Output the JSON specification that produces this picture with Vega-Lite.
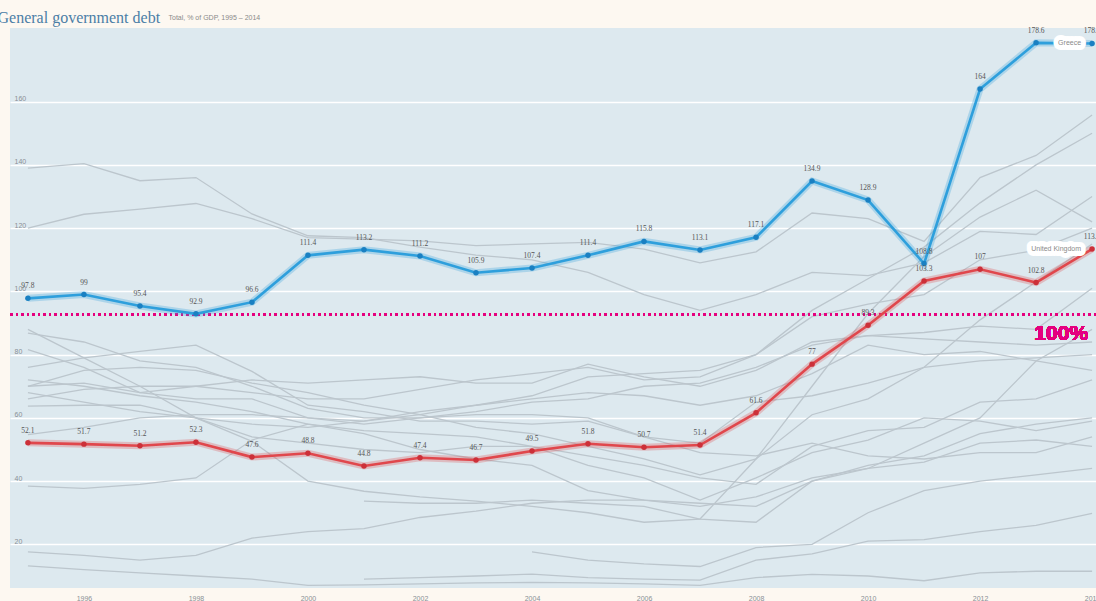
{
"$schema":"https://vega.github.io/schema/vega-lite/v6.json",
"autosize":{"type":"none"},
"width":1086,"height":560,
"padding":{"left":10,"top":28,"right":0,"bottom":13},
"background":"#fdf8f1",
"config":{"view":{"fill":"#dde9ef","stroke":null},"font":"Liberation Sans"},
"datasets":{"debt":[
{"country":"Greece","year":1995,"value":97.8},{"country":"Greece","year":1996,"value":99},{"country":"Greece","year":1997,"value":95.4},{"country":"Greece","year":1998,"value":92.9},{"country":"Greece","year":1999,"value":96.6},{"country":"Greece","year":2000,"value":111.4},{"country":"Greece","year":2001,"value":113.2},{"country":"Greece","year":2002,"value":111.2},{"country":"Greece","year":2003,"value":105.9},{"country":"Greece","year":2004,"value":107.4},{"country":"Greece","year":2005,"value":111.4},{"country":"Greece","year":2006,"value":115.8},{"country":"Greece","year":2007,"value":113.1},{"country":"Greece","year":2008,"value":117.1},{"country":"Greece","year":2009,"value":134.9},{"country":"Greece","year":2010,"value":128.9},{"country":"Greece","year":2011,"value":108.8},{"country":"Greece","year":2012,"value":164},{"country":"Greece","year":2013,"value":178.6},{"country":"Greece","year":2014,"value":178.4},
{"country":"United Kingdom","year":1995,"value":52.1},{"country":"United Kingdom","year":1996,"value":51.7},{"country":"United Kingdom","year":1997,"value":51.2},{"country":"United Kingdom","year":1998,"value":52.3},{"country":"United Kingdom","year":1999,"value":47.6},{"country":"United Kingdom","year":2000,"value":48.8},{"country":"United Kingdom","year":2001,"value":44.8},{"country":"United Kingdom","year":2002,"value":47.4},{"country":"United Kingdom","year":2003,"value":46.7},{"country":"United Kingdom","year":2004,"value":49.5},{"country":"United Kingdom","year":2005,"value":51.8},{"country":"United Kingdom","year":2006,"value":50.7},{"country":"United Kingdom","year":2007,"value":51.4},{"country":"United Kingdom","year":2008,"value":61.6},{"country":"United Kingdom","year":2009,"value":77},{"country":"United Kingdom","year":2010,"value":89.3},{"country":"United Kingdom","year":2011,"value":103.3},{"country":"United Kingdom","year":2012,"value":107},{"country":"United Kingdom","year":2013,"value":102.8},{"country":"United Kingdom","year":2014,"value":113.4},
{"country":"Belgium","year":1995,"value":139},{"country":"Belgium","year":1996,"value":140.4},{"country":"Belgium","year":1997,"value":135},{"country":"Belgium","year":1998,"value":136},{"country":"Belgium","year":1999,"value":124.5},{"country":"Belgium","year":2000,"value":117.6},{"country":"Belgium","year":2001,"value":117},{"country":"Belgium","year":2002,"value":114},{"country":"Belgium","year":2003,"value":111.5},{"country":"Belgium","year":2004,"value":110},{"country":"Belgium","year":2005,"value":106},{"country":"Belgium","year":2006,"value":99},{"country":"Belgium","year":2007,"value":94},{"country":"Belgium","year":2008,"value":99},{"country":"Belgium","year":2009,"value":106},{"country":"Belgium","year":2010,"value":105},{"country":"Belgium","year":2011,"value":109},{"country":"Belgium","year":2012,"value":119},{"country":"Belgium","year":2013,"value":118},{"country":"Belgium","year":2014,"value":130},
{"country":"Italy","year":1995,"value":120},{"country":"Italy","year":1996,"value":124.4},{"country":"Italy","year":1997,"value":126},{"country":"Italy","year":1998,"value":127.8},{"country":"Italy","year":1999,"value":123},{"country":"Italy","year":2000,"value":117},{"country":"Italy","year":2001,"value":116.5},{"country":"Italy","year":2002,"value":116},{"country":"Italy","year":2003,"value":114.5},{"country":"Italy","year":2004,"value":115},{"country":"Italy","year":2005,"value":115.5},{"country":"Italy","year":2006,"value":113.4},{"country":"Italy","year":2007,"value":109},{"country":"Italy","year":2008,"value":112.5},{"country":"Italy","year":2009,"value":124.8},{"country":"Italy","year":2010,"value":123},{"country":"Italy","year":2011,"value":115.8},{"country":"Italy","year":2012,"value":136},{"country":"Italy","year":2013,"value":143},{"country":"Italy","year":2014,"value":155.8},
{"country":"Portugal","year":1995,"value":68},{"country":"Portugal","year":1996,"value":65},{"country":"Portugal","year":1997,"value":62},{"country":"Portugal","year":1998,"value":60},{"country":"Portugal","year":1999,"value":58},{"country":"Portugal","year":2000,"value":57},{"country":"Portugal","year":2001,"value":59},{"country":"Portugal","year":2002,"value":62},{"country":"Portugal","year":2003,"value":64},{"country":"Portugal","year":2004,"value":67},{"country":"Portugal","year":2005,"value":73},{"country":"Portugal","year":2006,"value":74},{"country":"Portugal","year":2007,"value":75},{"country":"Portugal","year":2008,"value":80},{"country":"Portugal","year":2009,"value":94},{"country":"Portugal","year":2010,"value":104},{"country":"Portugal","year":2011,"value":114},{"country":"Portugal","year":2012,"value":128},{"country":"Portugal","year":2013,"value":140},{"country":"Portugal","year":2014,"value":150},
{"country":"Ireland","year":1995,"value":88},{"country":"Ireland","year":1996,"value":79},{"country":"Ireland","year":1997,"value":70},{"country":"Ireland","year":1998,"value":60},{"country":"Ireland","year":1999,"value":52.6},{"country":"Ireland","year":2000,"value":40},{"country":"Ireland","year":2001,"value":36.8},{"country":"Ireland","year":2002,"value":35},{"country":"Ireland","year":2003,"value":33.7},{"country":"Ireland","year":2004,"value":32},{"country":"Ireland","year":2005,"value":30},{"country":"Ireland","year":2006,"value":27},{"country":"Ireland","year":2007,"value":28},{"country":"Ireland","year":2008,"value":47},{"country":"Ireland","year":2009,"value":70},{"country":"Ireland","year":2010,"value":93},{"country":"Ireland","year":2011,"value":111},{"country":"Ireland","year":2012,"value":123.5},{"country":"Ireland","year":2013,"value":132},{"country":"Ireland","year":2014,"value":122},
{"country":"France","year":1995,"value":66},{"country":"France","year":1996,"value":69},{"country":"France","year":1997,"value":70},{"country":"France","year":1998,"value":70},{"country":"France","year":1999,"value":68},{"country":"France","year":2000,"value":66},{"country":"France","year":2001,"value":66},{"country":"France","year":2002,"value":69},{"country":"France","year":2003,"value":72},{"country":"France","year":2004,"value":74},{"country":"France","year":2005,"value":76},{"country":"France","year":2006,"value":72},{"country":"France","year":2007,"value":73},{"country":"France","year":2008,"value":80},{"country":"France","year":2009,"value":92},{"country":"France","year":2010,"value":96},{"country":"France","year":2011,"value":99},{"country":"France","year":2012,"value":110},{"country":"France","year":2013,"value":113},{"country":"France","year":2014,"value":120},
{"country":"Spain","year":1995,"value":70},{"country":"Spain","year":1996,"value":75},{"country":"Spain","year":1997,"value":76},{"country":"Spain","year":1998,"value":75},{"country":"Spain","year":1999,"value":71},{"country":"Spain","year":2000,"value":68},{"country":"Spain","year":2001,"value":64},{"country":"Spain","year":2002,"value":61},{"country":"Spain","year":2003,"value":57},{"country":"Spain","year":2004,"value":55},{"country":"Spain","year":2005,"value":51},{"country":"Spain","year":2006,"value":47},{"country":"Spain","year":2007,"value":42},{"country":"Spain","year":2008,"value":47},{"country":"Spain","year":2009,"value":61},{"country":"Spain","year":2010,"value":66},{"country":"Spain","year":2011,"value":76},{"country":"Spain","year":2012,"value":91},{"country":"Spain","year":2013,"value":103},{"country":"Spain","year":2014,"value":115},
{"country":"Austria","year":1995,"value":70},{"country":"Austria","year":1996,"value":71},{"country":"Austria","year":1997,"value":68},{"country":"Austria","year":1998,"value":70},{"country":"Austria","year":1999,"value":72},{"country":"Austria","year":2000,"value":71},{"country":"Austria","year":2001,"value":72},{"country":"Austria","year":2002,"value":73},{"country":"Austria","year":2003,"value":71},{"country":"Austria","year":2004,"value":71},{"country":"Austria","year":2005,"value":77},{"country":"Austria","year":2006,"value":73},{"country":"Austria","year":2007,"value":70},{"country":"Austria","year":2008,"value":75},{"country":"Austria","year":2009,"value":84},{"country":"Austria","year":2010,"value":86},{"country":"Austria","year":2011,"value":87},{"country":"Austria","year":2012,"value":89},{"country":"Austria","year":2013,"value":88},{"country":"Austria","year":2014,"value":101},
{"country":"Netherlands","year":1995,"value":86.8},{"country":"Netherlands","year":1996,"value":84},{"country":"Netherlands","year":1997,"value":78},{"country":"Netherlands","year":1998,"value":76},{"country":"Netherlands","year":1999,"value":70},{"country":"Netherlands","year":2000,"value":63},{"country":"Netherlands","year":2001,"value":60},{"country":"Netherlands","year":2002,"value":60},{"country":"Netherlands","year":2003,"value":61},{"country":"Netherlands","year":2004,"value":61},{"country":"Netherlands","year":2005,"value":60},{"country":"Netherlands","year":2006,"value":54},{"country":"Netherlands","year":2007,"value":52},{"country":"Netherlands","year":2008,"value":65},{"country":"Netherlands","year":2009,"value":67},{"country":"Netherlands","year":2010,"value":71},{"country":"Netherlands","year":2011,"value":76},{"country":"Netherlands","year":2012,"value":78},{"country":"Netherlands","year":2013,"value":79},{"country":"Netherlands","year":2014,"value":80},
{"country":"Hungary","year":1995,"value":81.6},{"country":"Hungary","year":1996,"value":76},{"country":"Hungary","year":1997,"value":68},{"country":"Hungary","year":1998,"value":66},{"country":"Hungary","year":1999,"value":66},{"country":"Hungary","year":2000,"value":60},{"country":"Hungary","year":2001,"value":58},{"country":"Hungary","year":2002,"value":60},{"country":"Hungary","year":2003,"value":62},{"country":"Hungary","year":2004,"value":65},{"country":"Hungary","year":2005,"value":66},{"country":"Hungary","year":2006,"value":70},{"country":"Hungary","year":2007,"value":71},{"country":"Hungary","year":2008,"value":76},{"country":"Hungary","year":2009,"value":83},{"country":"Hungary","year":2010,"value":86},{"country":"Hungary","year":2011,"value":85},{"country":"Hungary","year":2012,"value":84},{"country":"Hungary","year":2013,"value":83},{"country":"Hungary","year":2014,"value":84},
{"country":"Sweden","year":1995,"value":76},{"country":"Sweden","year":1996,"value":79},{"country":"Sweden","year":1997,"value":81},{"country":"Sweden","year":1998,"value":83},{"country":"Sweden","year":1999,"value":74.7},{"country":"Sweden","year":2000,"value":64},{"country":"Sweden","year":2001,"value":62},{"country":"Sweden","year":2002,"value":59},{"country":"Sweden","year":2003,"value":59},{"country":"Sweden","year":2004,"value":58},{"country":"Sweden","year":2005,"value":59},{"country":"Sweden","year":2006,"value":54},{"country":"Sweden","year":2007,"value":49},{"country":"Sweden","year":2008,"value":48},{"country":"Sweden","year":2009,"value":52},{"country":"Sweden","year":2010,"value":48},{"country":"Sweden","year":2011,"value":47},{"country":"Sweden","year":2012,"value":49},{"country":"Sweden","year":2013,"value":49},{"country":"Sweden","year":2014,"value":54},
{"country":"Denmark","year":1995,"value":72},{"country":"Denmark","year":1996,"value":70},{"country":"Denmark","year":1997,"value":67},{"country":"Denmark","year":1998,"value":65},{"country":"Denmark","year":1999,"value":62},{"country":"Denmark","year":2000,"value":58},{"country":"Denmark","year":2001,"value":56},{"country":"Denmark","year":2002,"value":55},{"country":"Denmark","year":2003,"value":54},{"country":"Denmark","year":2004,"value":51},{"country":"Denmark","year":2005,"value":45},{"country":"Denmark","year":2006,"value":41},{"country":"Denmark","year":2007,"value":34},{"country":"Denmark","year":2008,"value":41},{"country":"Denmark","year":2009,"value":49},{"country":"Denmark","year":2010,"value":53},{"country":"Denmark","year":2011,"value":60},{"country":"Denmark","year":2012,"value":59},{"country":"Denmark","year":2013,"value":56},{"country":"Denmark","year":2014,"value":59},
{"country":"Finland","year":1995,"value":63.7},{"country":"Finland","year":1996,"value":64},{"country":"Finland","year":1997,"value":64},{"country":"Finland","year":1998,"value":60},{"country":"Finland","year":1999,"value":54},{"country":"Finland","year":2000,"value":52},{"country":"Finland","year":2001,"value":50},{"country":"Finland","year":2002,"value":49},{"country":"Finland","year":2003,"value":51},{"country":"Finland","year":2004,"value":51},{"country":"Finland","year":2005,"value":48},{"country":"Finland","year":2006,"value":45},{"country":"Finland","year":2007,"value":41},{"country":"Finland","year":2008,"value":39},{"country":"Finland","year":2009,"value":51},{"country":"Finland","year":2010,"value":56},{"country":"Finland","year":2011,"value":57},{"country":"Finland","year":2012,"value":65},{"country":"Finland","year":2013,"value":66},{"country":"Finland","year":2014,"value":72},
{"country":"Germany","year":1995,"value":54.7},{"country":"Germany","year":1996,"value":57},{"country":"Germany","year":1997,"value":60},{"country":"Germany","year":1998,"value":61},{"country":"Germany","year":1999,"value":61},{"country":"Germany","year":2000,"value":60},{"country":"Germany","year":2001,"value":59},{"country":"Germany","year":2002,"value":61},{"country":"Germany","year":2003,"value":64},{"country":"Germany","year":2004,"value":66},{"country":"Germany","year":2005,"value":68},{"country":"Germany","year":2006,"value":67},{"country":"Germany","year":2007,"value":64},{"country":"Germany","year":2008,"value":67},{"country":"Germany","year":2009,"value":74},{"country":"Germany","year":2010,"value":83},{"country":"Germany","year":2011,"value":80},{"country":"Germany","year":2012,"value":81},{"country":"Germany","year":2013,"value":78},{"country":"Germany","year":2014,"value":75},
{"country":"Slovakia","year":1995,"value":38.4},{"country":"Slovakia","year":1996,"value":37.7},{"country":"Slovakia","year":1997,"value":39},{"country":"Slovakia","year":1998,"value":41},{"country":"Slovakia","year":1999,"value":53},{"country":"Slovakia","year":2000,"value":58},{"country":"Slovakia","year":2001,"value":55},{"country":"Slovakia","year":2002,"value":50},{"country":"Slovakia","year":2003,"value":47},{"country":"Slovakia","year":2004,"value":45},{"country":"Slovakia","year":2005,"value":37},{"country":"Slovakia","year":2006,"value":34},{"country":"Slovakia","year":2007,"value":33},{"country":"Slovakia","year":2008,"value":32},{"country":"Slovakia","year":2009,"value":40},{"country":"Slovakia","year":2010,"value":45},{"country":"Slovakia","year":2011,"value":48},{"country":"Slovakia","year":2012,"value":55},{"country":"Slovakia","year":2013,"value":58},{"country":"Slovakia","year":2014,"value":60},
{"country":"Czech Republic","year":1995,"value":17.6},{"country":"Czech Republic","year":1996,"value":16.5},{"country":"Czech Republic","year":1997,"value":15},{"country":"Czech Republic","year":1998,"value":16.5},{"country":"Czech Republic","year":1999,"value":22},{"country":"Czech Republic","year":2000,"value":24},{"country":"Czech Republic","year":2001,"value":25},{"country":"Czech Republic","year":2002,"value":28.5},{"country":"Czech Republic","year":2003,"value":30.5},{"country":"Czech Republic","year":2004,"value":33},{"country":"Czech Republic","year":2005,"value":34},{"country":"Czech Republic","year":2006,"value":34},{"country":"Czech Republic","year":2007,"value":32},{"country":"Czech Republic","year":2008,"value":35},{"country":"Czech Republic","year":2009,"value":41},{"country":"Czech Republic","year":2010,"value":44},{"country":"Czech Republic","year":2011,"value":46},{"country":"Czech Republic","year":2012,"value":52},{"country":"Czech Republic","year":2013,"value":53},{"country":"Czech Republic","year":2014,"value":51},
{"country":"Estonia","year":1995,"value":13.2},{"country":"Estonia","year":1996,"value":12},{"country":"Estonia","year":1997,"value":11},{"country":"Estonia","year":1998,"value":10},{"country":"Estonia","year":1999,"value":9},{"country":"Estonia","year":2000,"value":7},{"country":"Estonia","year":2001,"value":7.2},{"country":"Estonia","year":2002,"value":7.5},{"country":"Estonia","year":2003,"value":7.8},{"country":"Estonia","year":2004,"value":8},{"country":"Estonia","year":2005,"value":7.8},{"country":"Estonia","year":2006,"value":7.5},{"country":"Estonia","year":2007,"value":7},{"country":"Estonia","year":2008,"value":9.5},{"country":"Estonia","year":2009,"value":10.5},{"country":"Estonia","year":2010,"value":10},{"country":"Estonia","year":2011,"value":8.5},{"country":"Estonia","year":2012,"value":11},{"country":"Estonia","year":2013,"value":11.5},{"country":"Estonia","year":2014,"value":11.5},
{"country":"Slovenia","year":2001,"value":33.7},{"country":"Slovenia","year":2002,"value":33},{"country":"Slovenia","year":2003,"value":33},{"country":"Slovenia","year":2004,"value":34},{"country":"Slovenia","year":2005,"value":33},{"country":"Slovenia","year":2006,"value":32},{"country":"Slovenia","year":2007,"value":28},{"country":"Slovenia","year":2008,"value":27},{"country":"Slovenia","year":2009,"value":40},{"country":"Slovenia","year":2010,"value":44},{"country":"Slovenia","year":2011,"value":52},{"country":"Slovenia","year":2012,"value":60},{"country":"Slovenia","year":2013,"value":78},{"country":"Slovenia","year":2014,"value":88},
{"country":"Luxembourg","year":2001,"value":9},{"country":"Luxembourg","year":2002,"value":9.5},{"country":"Luxembourg","year":2003,"value":10},{"country":"Luxembourg","year":2004,"value":10.6},{"country":"Luxembourg","year":2005,"value":9.5},{"country":"Luxembourg","year":2006,"value":9},{"country":"Luxembourg","year":2007,"value":8.7},{"country":"Luxembourg","year":2008,"value":15},{"country":"Luxembourg","year":2009,"value":17},{"country":"Luxembourg","year":2010,"value":21},{"country":"Luxembourg","year":2011,"value":21.5},{"country":"Luxembourg","year":2012,"value":24},{"country":"Luxembourg","year":2013,"value":26},{"country":"Luxembourg","year":2014,"value":29.8},
{"country":"Latvia","year":2004,"value":17.6},{"country":"Latvia","year":2005,"value":15},{"country":"Latvia","year":2006,"value":13.8},{"country":"Latvia","year":2007,"value":13},{"country":"Latvia","year":2008,"value":19},{"country":"Latvia","year":2009,"value":20},{"country":"Latvia","year":2010,"value":30},{"country":"Latvia","year":2011,"value":37},{"country":"Latvia","year":2012,"value":40},{"country":"Latvia","year":2013,"value":42},{"country":"Latvia","year":2014,"value":44}
]},
"data":{"name":"debt"},
"layer":[
{"transform":[{"filter":"datum.country !== 'Greece' && datum.country !== 'United Kingdom'"}],
 "mark":{"type":"line","stroke":"#bcc6cd","strokeWidth":1.3,"clip":true},
 "encoding":{
  "x":{"field":"year","type":"quantitative","scale":{"domain":[1994.68,2014.07],"nice":false,"zero":false},
   "axis":{"values":[1996,1998,2000,2002,2004,2006,2008,2010,2012,2014],"format":"d","grid":false,"domain":false,"ticks":false,"tickSize":0,"labelFontSize":7,"labelColor":"#8a9096","labelPadding":6,"labelFlush":false,
    "title":"General government debt","titleX":-13,"titleY":-571,"titleAngle":0,"titleAlign":"left","titleBaseline":"middle","titleFont":"Liberation Serif","titleFontSize":16,"titleFontWeight":"normal","titleColor":"#4b7ea6"}},
  "y":{"field":"value","type":"quantitative","scale":{"domain":[6.2,183.3],"nice":false,"zero":false},
   "axis":{"values":[20,40,60,80,100,120,140,160],"grid":true,"gridColor":"#ffffff","gridWidth":1.5,"domain":false,"ticks":false,"tickSize":0,"labelAlign":"left","labelBaseline":"bottom","labelPadding":-4,"labelFontSize":7,"labelColor":"#8a9096",
    "title":"Total, % of GDP, 1995 – 2014","titleX":158,"titleY":-11,"titleAngle":0,"titleAlign":"left","titleBaseline":"middle","titleFontSize":7,"titleFontWeight":"normal","titleColor":"#8a8a8a"}},
  "detail":{"field":"country","type":"nominal"}}},
{"mark":{"type":"rule","color":"#e6007e","strokeWidth":2.5,"strokeDash":[2,3.5]},
 "encoding":{"y":{"datum":92.8,"type":"quantitative"}}},
{"transform":[{"filter":"datum.country === 'Greece' || datum.country === 'United Kingdom'"}],
 "mark":{"type":"line","strokeWidth":7,"opacity":0.28,"clip":true},
 "encoding":{
  "x":{"field":"year","type":"quantitative"},
  "y":{"field":"value","type":"quantitative"},
  "color":{"field":"country","type":"nominal","scale":{"domain":["Greece","United Kingdom"],"range":["#2e9fdc","#e0474c"]},"legend":null}}},
{"transform":[{"filter":"datum.country === 'Greece' || datum.country === 'United Kingdom'"}],
 "mark":{"type":"line","strokeWidth":2.6,"clip":true},
 "encoding":{
  "x":{"field":"year","type":"quantitative"},
  "y":{"field":"value","type":"quantitative"},
  "color":{"field":"country","type":"nominal","scale":{"domain":["Greece","United Kingdom"],"range":["#2e9fdc","#e0474c"]},"legend":null}}},
{"transform":[{"filter":"datum.country === 'Greece' || datum.country === 'United Kingdom'"}],
 "mark":{"type":"point","filled":true,"size":30,"opacity":1},
 "encoding":{
  "x":{"field":"year","type":"quantitative"},
  "y":{"field":"value","type":"quantitative"},
  "fill":{"field":"country","type":"nominal","scale":{"domain":["Greece","United Kingdom"],"range":["#1a80c2","#cc3039"]},"legend":null}}},
{"transform":[{"filter":"datum.country === 'Greece' || datum.country === 'United Kingdom'"}],
 "mark":{"type":"text","fontSize":7.5,"color":"#555555","dy":-8,"baseline":"bottom","font":"Liberation Serif"},
 "encoding":{
  "x":{"field":"year","type":"quantitative"},
  "y":{"field":"value","type":"quantitative"},
  "text":{"field":"value","type":"nominal"}}},
{"transform":[{"filter":"(datum.country === 'Greece' || datum.country === 'United Kingdom') && datum.year === 2014"}],
 "mark":{"type":"text","fontSize":7,"align":"right","baseline":"middle","dx":-11,"stroke":"#ffffff","strokeWidth":10,"strokeJoin":"round","color":"#ffffff"},
 "encoding":{
  "x":{"field":"year","type":"quantitative"},
  "y":{"field":"value","type":"quantitative"},
  "text":{"field":"country","type":"nominal"}}},
{"transform":[{"filter":"(datum.country === 'Greece' || datum.country === 'United Kingdom') && datum.year === 2014"}],
 "mark":{"type":"text","fontSize":7,"align":"right","baseline":"middle","dx":-11,"color":"#8a8a8a"},
 "encoding":{
  "x":{"field":"year","type":"quantitative"},
  "y":{"field":"value","type":"quantitative"},
  "text":{"field":"country","type":"nominal"}}},
{"mark":{"type":"text","text":"100%","fontSize":21,"fontWeight":"bold","color":"#e6007e","align":"right","baseline":"middle","dx":-4,"dy":20,"font":"Liberation Sans"},
 "encoding":{
  "x":{"datum":2014,"type":"quantitative"},
  "y":{"datum":92.8,"type":"quantitative"}}}
]
}
